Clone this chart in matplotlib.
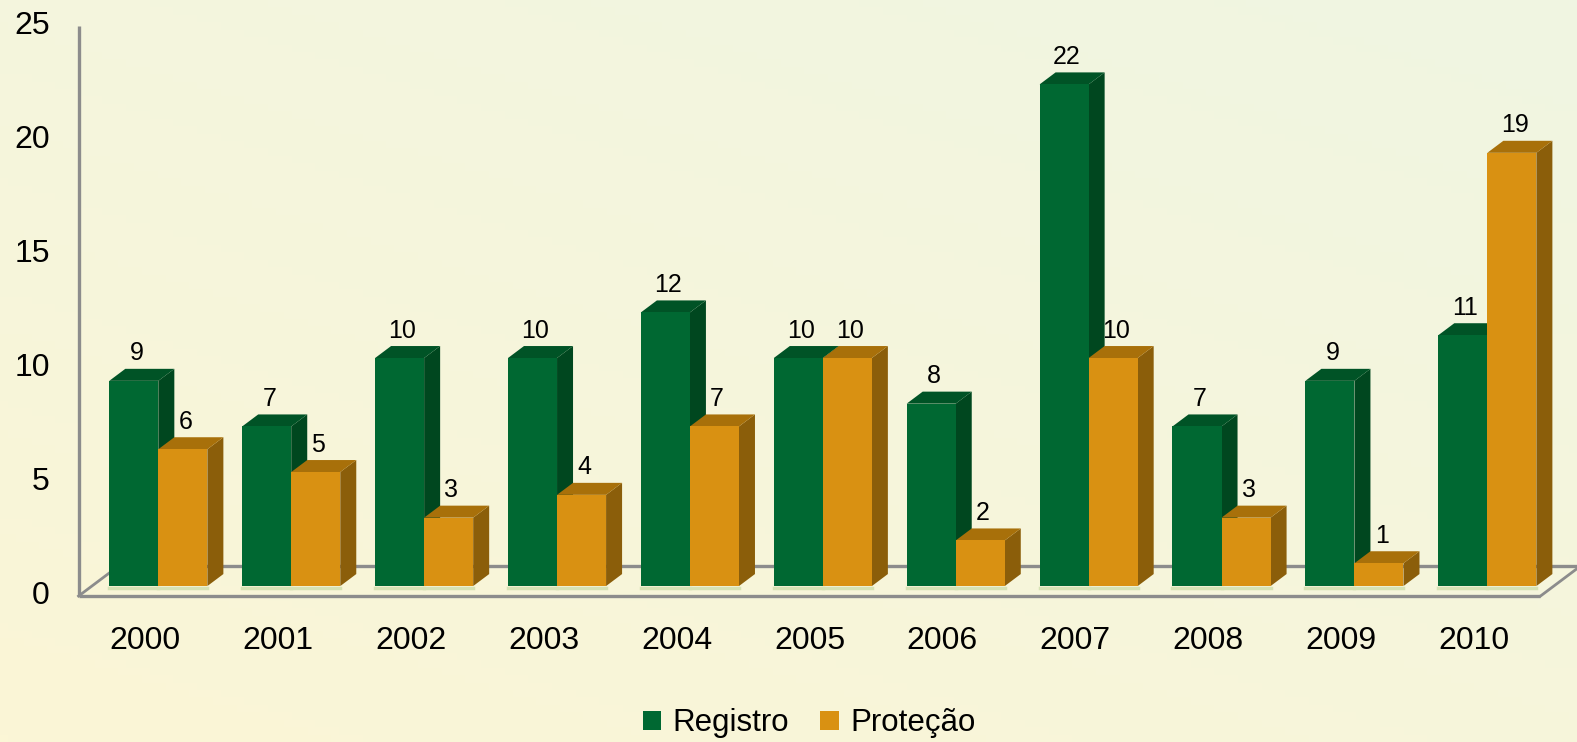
import matplotlib
matplotlib.use("Agg")
import matplotlib.pyplot as plt
from matplotlib.patches import Polygon, Patch
import numpy as np

plt.rcParams['font.family'] = ['Liberation Sans', 'DejaVu Sans']

years = ['2000', '2001', '2002', '2003', '2004', '2005', '2006', '2007', '2008', '2009', '2010']
registro = [9, 7, 10, 10, 12, 10, 8, 22, 7, 9, 11]
protecao = [6, 5, 3, 4, 7, 10, 2, 10, 3, 1, 19]
y_ticks = [0, 5, 10, 15, 20, 25]

# faces: front, side, top
green = ('#006832', '#00471f', '#005326')
orange = ('#d99112', '#8b5e0a', '#a8700a')

# pseudo 3d projection (data units)
DX, DV = 0.301, 1.316      # full floor depth offset
Z0, ZB = 1 / 3, 0.4        # bar front depth and bar thickness
BW = 0.369                 # bar width

fig = plt.figure(figsize=(15.77, 7.42), dpi=100)
ax = fig.add_axes([0, 0, 1, 1])
ax.set_xlim(-1.091, 10.775)
ax.set_ylim(-6.40, 26.14)
ax.axis('off')

# background gradient
gx, gy = np.meshgrid(np.linspace(0, 1, 200), np.linspace(0, 1, 100))
t = np.clip(0.6 * gy + 0.4 * gx, 0, 1)[..., None]
c_low = np.array([251, 246, 214]) / 255
c_high = np.array([240, 245, 226]) / 255
bg = c_low * (1 - t) + c_high * t
ax.imshow(bg, extent=[-1.091, 10.775, -6.40, 26.14], origin='lower', aspect='auto', zorder=0)

n = len(years)
edge = '#8c8c8c'
# floor
x0, x1 = -0.5, n - 0.5
ax.plot([x0, x1], [0, 0], color=edge, lw=2.4, zorder=1, solid_capstyle='butt')
ax.plot([x0 + DX, x1 + DX + 0.5], [DV, DV], color=edge, lw=2.4, zorder=1, solid_capstyle='butt')
ax.plot([x0, x0 + DX], [0, DV], color=edge, lw=2.0, zorder=1)
ax.plot([x1, x1 + DX], [0, DV], color=edge, lw=2.0, zorder=1)
# y axis line
ax.plot([x0, x0], [0, 25], color=edge, lw=2.4, zorder=1, solid_capstyle='butt')

for v in y_ticks:
    ax.text(x0 - 0.215, v, str(v), ha='right', va='center', fontsize=23, color='black')


def bar3d(xl, val, cols, z):
    dx, dv = ZB * DX, ZB * DV
    xo, vo = xl + z * DX, z * DV
    xr = xo + BW
    front = Polygon([(xo, vo), (xr, vo), (xr, vo + val), (xo, vo + val)],
                    closed=True, fc=cols[0], ec='none', zorder=z_order[0])
    side = Polygon([(xr, vo), (xr + dx, vo + dv), (xr + dx, vo + val + dv), (xr, vo + val)],
                   closed=True, fc=cols[1], ec='none', zorder=z_order[0])
    top = Polygon([(xo, vo + val), (xr, vo + val), (xr + dx, vo + val + dv), (xo + dx, vo + val + dv)],
                  closed=True, fc=cols[2], ec='none', zorder=z_order[0])
    for p in (side, top, front):
        ax.add_patch(p)
    ax.plot([xo, xr], [vo - 0.08, vo - 0.08], color='#d6e2b4', lw=2.5, zorder=z_order[0])
    ax.text(xo + BW / 2 + 0.02, vo + val + dv + 0.15, str(val), ha='center', va='bottom',
            fontsize=18, color='black', zorder=z_order[0] + 1)
    z_order[0] += 2


z_order = [3]
for i in range(n):
    bar3d(i - BW, registro[i], green, Z0)
    bar3d(i, protecao[i], orange, Z0)
    ax.text(i, -1.95, years[i], ha='center', va='center', fontsize=23, color='black')

handles = [Patch(fc=green[0], ec='none', label='Registro'),
           Patch(fc=orange[0], ec='none', label='Proteção')]
fig.legend(handles=handles, loc='center', bbox_to_anchor=(0.513, 0.025), ncol=2,
           frameon=False, fontsize=22.5, handlelength=0.6, handleheight=0.6,
           handletextpad=0.35, columnspacing=1.0)

fig.savefig('out.png', dpi=100)
